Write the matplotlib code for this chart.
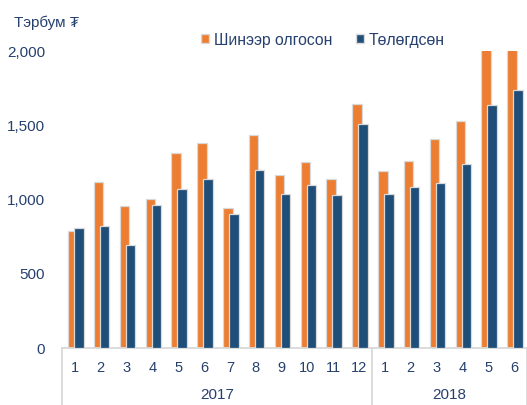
import matplotlib
matplotlib.use("Agg")
import matplotlib.pyplot as plt
from matplotlib.patches import Rectangle
import numpy as np

plt.rcParams['font.family'] = ['Liberation Sans', 'DejaVu Sans']

months = ['1', '2', '3', '4', '5', '6', '7', '8', '9', '10', '11', '12',
          '1', '2', '3', '4', '5', '6']
years = ['2017', '2018']
year_counts = [12, 6]
issued = [790, 1115, 955, 1005, 1310, 1380, 945, 1437, 1167, 1250, 1135, 1640,
          1190, 1260, 1407, 1530, 2100, 2150]
repaid = [805, 820, 695, 962, 1068, 1140, 905, 1200, 1040, 1100, 1027, 1510,
          1038, 1083, 1108, 1237, 1637, 1737]
series_names = ['Шинээр олгосон', 'Төлөгдсөн']
unit_label = 'Тэрбум ₮'

ORANGE = '#ED7D31'
BLUE = '#1F4E79'
TXT = '#26406E'
EDGE = '#D9D9D9'

W, H = 527, 405
fig = plt.figure(figsize=(W / 100, H / 100), dpi=100)
ax = fig.add_axes([62 / W, (H - 348) / H, (527 - 62) / W, (348 - 51) / H])

x = np.arange(len(months))
bw = 0.37
ax.bar(x - 0.08, issued, width=bw, color=ORANGE, edgecolor=EDGE, linewidth=0.9, zorder=2)
ax.bar(x + 0.15, repaid, width=bw, color=BLUE, edgecolor=EDGE, linewidth=0.9, zorder=3)

ax.set_xlim(-0.5, len(months) - 0.5)
ax.set_ylim(0, 2000)
ax.set_yticks([0, 500, 1000, 1500, 2000])
ax.set_yticklabels(['0', '500', '1,000', '1,500', '2,000'])
ax.tick_params(axis='y', length=0, pad=12, labelsize=11, labelcolor=TXT)

ax.set_xticks(x)
ax.set_xticklabels(months)
ax.tick_params(axis='x', length=0, pad=9, labelsize=10.5, labelcolor=TXT)

for s in ['top', 'right', 'left']:
    ax.spines[s].set_visible(False)
ax.spines['bottom'].set_color(EDGE)
ax.spines['bottom'].set_linewidth(1.3)

# multi-level category separators and year labels
trans = ax.get_xaxis_transform()
drop = (405 - 348) / (348 - 51)
start = -0.5
bounds = [start]
for name, n in zip(years, year_counts):
    mid = start + n / 2
    ax.text(mid, -(395 - 348) / (348 - 51), name, transform=trans, ha='center', va='center',
            fontsize=11, color=TXT)
    start += n
    bounds.append(start)
for b in bounds:
    ax.plot([b, b], [0, -drop], transform=trans, color=EDGE, lw=1.3, clip_on=False)

# title / unit
fig.text(14 / W, 1 - 23 / H, unit_label, ha='left', va='center', fontsize=11, color=TXT)

# legend
handles = [Rectangle((0, 0), 1, 1, facecolor=ORANGE, edgecolor=EDGE, lw=1.0),
           Rectangle((0, 0), 1, 1, facecolor=BLUE, edgecolor=EDGE, lw=1.0)]
fig.legend(handles, series_names, loc='center', bbox_to_anchor=(323 / W, 1 - 40 / H),
           ncol=2, frameon=False, fontsize=11.3, labelcolor=TXT,
           handlelength=0.5, handleheight=0.5, handletextpad=0.3, columnspacing=1.5)

fig.savefig('out.png', dpi=100)
